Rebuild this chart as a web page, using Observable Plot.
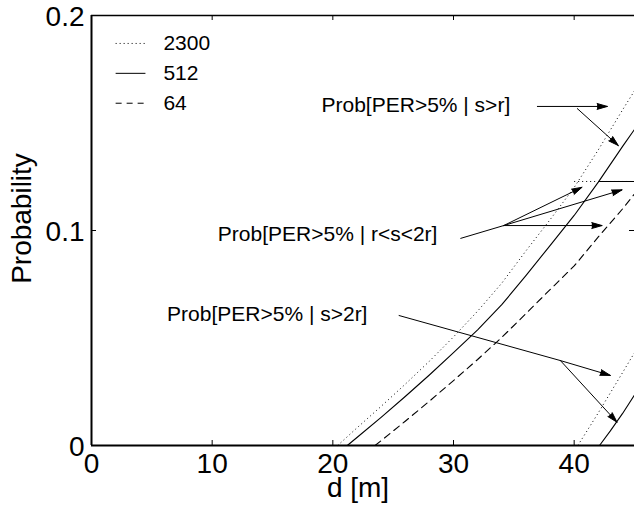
<!DOCTYPE html>
<html>
<head>
<meta charset="utf-8">
<script src="https://cdn.jsdelivr.net/npm/d3@7"></script>
<script src="https://cdn.jsdelivr.net/npm/@observablehq/plot@0.6"></script>
<style>
  html, body { margin: 0; padding: 0; background: #fff; }
  #chart { width: 634px; height: 506px; }
</style>
</head>
<body>
<div id="chart"></div>
<script>
// ---- Data ----
const xTicks = [0, 10, 20, 30, 40];
const yTicks = [0, 0.1, 0.2];
const yTickLabels = ["0", "0.1", "0.2"];
const legendLabels = ["2300", "512", "64"];

// Prob[PER>5% | s>r]
const sr_2300_x = [20.4, 22, 24, 26, 28, 30, 32, 34, 36, 38, 40, 42, 44, 45];
const sr_2300_y = [0, 0.0082, 0.0182, 0.0285, 0.0392, 0.0505, 0.0625, 0.0755, 0.0905, 0.105, 0.120, 0.1375, 0.156, 0.165];
const sr_512_x = [21.2, 22, 24, 26, 28, 30, 32, 34, 36, 38, 40, 42, 44, 45];
const sr_512_y = [0, 0.0037, 0.0131, 0.0228, 0.0328, 0.0432, 0.0538, 0.0655, 0.079, 0.093, 0.107, 0.1225, 0.139, 0.147];
const sr_64_x = [23.5, 24, 26, 28, 30, 32, 34, 36, 38, 40, 42, 44, 45];
const sr_64_y = [0, 0.0022, 0.0113, 0.0206, 0.0302, 0.0400, 0.0503, 0.0613, 0.0725, 0.0835, 0.097, 0.110, 0.117];

// Prob[PER>5% | r<s<2r]
const rs_2300_x = [40, 45];
const rs_2300_y = [0.1228, 0.1228];
const rs_512_x = [42.1, 45];
const rs_512_y = [0.1228, 0.1228];

// Prob[PER>5% | s>2r]
const s2r_2300_x = [40.3, 41, 42, 43, 44, 45];
const s2r_2300_y = [0, 0.0062, 0.0152, 0.0245, 0.0338, 0.0432];
const s2r_512_x = [42.1, 43, 44, 45];
const s2r_512_y = [0, 0.0068, 0.0148, 0.0235];

// Annotations
const annoText = ["Prob[PER>5% | s>r]", "Prob[PER>5% | r<s<2r]", "Prob[PER>5% | s>2r]"];
const annoX = [34.7, 28.67, 22.87];
const annoY = [0.1581, 0.0981, 0.0609];
// leader lines (no head): text -> junction
const leadX1 = [30.57, 25.46];
const leadY1 = [0.0963, 0.0605];
const leadX2 = [34.16, 38.86];
const leadY2 = [0.1023, 0.0395];
// arrows
const arrX1 = [36.95, 40.26, 34.16, 34.16, 34.16, 38.86, 38.86];
const arrY1 = [0.1577, 0.1567, 0.1023, 0.1023, 0.1023, 0.0395, 0.0395];
const arrX2 = [42.75, 43.66, 40.65, 43.97, 42.31, 43.0, 43.55];
const arrY2 = [0.1577, 0.1395, 0.1201, 0.1189, 0.1023, 0.0326, 0.01085];

// ---- Build tables ----
const pts = (xs, ys) => xs.map((x, i) => ({x, y: ys[i]}));
const dotted = [pts(sr_2300_x, sr_2300_y), pts(rs_2300_x, rs_2300_y), pts(s2r_2300_x, s2r_2300_y)];
const solid = [pts(sr_512_x, sr_512_y), pts(rs_512_x, rs_512_y), pts(s2r_512_x, s2r_512_y)];
const dashed = [pts(sr_64_x, sr_64_y)];

const annos = annoText.map((t, i) => ({t, x: annoX[i], y: annoY[i]}));
const leads = leadX1.map((_, i) => ({x1: leadX1[i], y1: leadY1[i], x2: leadX2[i], y2: leadY2[i]}));
const arrows = arrX1.map((_, i) => ({x1: arrX1[i], y1: arrY1[i], x2: arrX2[i], y2: arrY2[i]}));

const dashStyles = ["1,3", "none", "6,5"];
const legendRows = legendLabels.map((label, i) => ({label, i}));
const legY = i => 0.187 - i * 0.0139;

const PH = 430, PW = 543; // plot area size (px) for tick insets

const lineMarks = [];
dotted.forEach(d => lineMarks.push(Plot.line(d, {x: "x", y: "y", stroke: "#000", strokeWidth: 1, strokeDasharray: "1,3", strokeLinecap: "butt"})));
solid.forEach(d => lineMarks.push(Plot.line(d, {x: "x", y: "y", stroke: "#000", strokeWidth: 1.1})));
dashed.forEach(d => lineMarks.push(Plot.line(d, {x: "x", y: "y", stroke: "#000", strokeWidth: 1.1, strokeDasharray: "7,5"})));

const legendLinks = legendRows.map(r => Plot.link([r], {
  x1: 2.0, x2: 4.47, y1: d => legY(d.i), y2: d => legY(d.i),
  stroke: "#000", strokeWidth: 1, strokeDasharray: dashStyles[r.i], strokeLinecap: "butt"
}));

const chart = Plot.plot({
  width: 634,
  height: 506,
  marginLeft: 91,
  marginRight: 0,
  marginTop: 15,
  marginBottom: 61,
  x: {domain: [0, 45], axis: null},
  y: {domain: [0, 0.2], axis: null},
  style: {fontFamily: "'Liberation Sans', Arial, Helvetica, sans-serif", background: "#fff", color: "#000", overflow: "visible"},
  marks: [
    ...lineMarks,
    // frame (left, top, bottom)
    Plot.ruleY([0], {stroke: "#000", strokeWidth: 2}),
    Plot.ruleY([0.2], {stroke: "#000", strokeWidth: 1.5}),
    Plot.ruleX([0], {stroke: "#000", strokeWidth: 2}),
    // inward ticks
    Plot.tickX(xTicks, {x: d => d, insetTop: PH - 5, stroke: "#000", strokeWidth: 1}),
    Plot.tickX(xTicks, {x: d => d, insetBottom: PH - 5, stroke: "#000", strokeWidth: 1}),
    Plot.tickY(yTicks, {y: d => d, insetRight: PW - 5, stroke: "#000", strokeWidth: 1}),
    Plot.tickY(yTicks, {y: d => d, insetLeft: PW - 5, stroke: "#000", strokeWidth: 1}),
    // tick labels
    Plot.text(xTicks, {x: d => d, frameAnchor: "bottom", dy: 27, text: d => String(d), fontSize: 28, fill: "#000"}),
    Plot.text(yTicks, {y: d => d, frameAnchor: "left", textAnchor: "end", dx: -7, dy: 2, text: (d, i) => yTickLabels[i], fontSize: 28, fill: "#000"}),
    // axis labels
    Plot.text(["d [m]"], {frameAnchor: "bottom", dx: -5, dy: 51, text: d => d, fontSize: 28, fill: "#000"}),
    Plot.text(["Probability"], {frameAnchor: "left", textAnchor: "middle", lineAnchor: "middle", rotate: -90, dx: -69, dy: -12, text: d => d, fontSize: 28, fill: "#000"}),
    // legend
    ...legendLinks,
    Plot.text(legendRows, {x: 5.96, y: d => legY(d.i), text: "label", textAnchor: "start", fontSize: 21, fill: "#000"}),
    // annotations
    Plot.text(annos, {x: "x", y: "y", text: "t", textAnchor: "end", fontSize: 21, fill: "#000"}),
    Plot.link(leads, {x1: "x1", y1: "y1", x2: "x2", y2: "y2", stroke: "#000", strokeWidth: 1}),
    Plot.arrow(arrows, {x1: "x1", y1: "y1", x2: "x2", y2: "y2", stroke: "#000", strokeWidth: 1, headLength: 16, headAngle: 32, strokeLinejoin: "miter"})
  ]
});

// filled arrowheads (the head subpath closes into a triangle when filled)
d3.select(chart).selectAll('g[aria-label="arrow"] path').attr("fill", "#000");

document.getElementById("chart").appendChild(chart);
</script>
</body>
</html>
